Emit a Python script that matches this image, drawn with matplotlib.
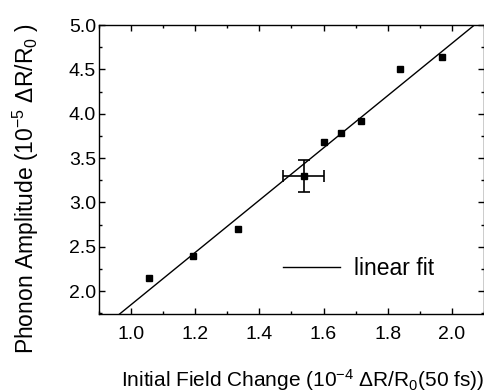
import matplotlib
matplotlib.use("Agg")
import matplotlib.pyplot as plt
import numpy as np
from matplotlib.ticker import MultipleLocator

plt.rcParams['font.family'] = ['Liberation Sans', 'DejaVu Sans']
plt.rcParams['mathtext.fontset'] = 'custom'
plt.rcParams['mathtext.rm'] = 'Liberation Sans'
plt.rcParams['mathtext.it'] = 'Liberation Sans:italic'
plt.rcParams['mathtext.bf'] = 'Liberation Sans:bold'

# Data
field_change = [1.056, 1.192, 1.335, 1.538, 1.603, 1.654, 1.716, 1.837, 1.969]
phonon_amp = [2.15, 2.40, 2.70, 3.30, 3.68, 3.78, 3.92, 4.50, 4.64]
err_point_index = 3
x_error = 0.063
y_error = 0.18
fit_slope = 2.947
fit_intercept = -1.101
x_ticks = [1.0, 1.2, 1.4, 1.6, 1.8, 2.0]
y_ticks = [2.0, 2.5, 3.0, 3.5, 4.0, 4.5, 5.0]

fig = plt.figure(figsize=(4.84, 3.92), dpi=100)
ax = fig.add_axes([98.85 / 484, 78 / 392, 1 - 98.85 / 484, 289 / 392])

xlim = (0.9, 2.1)
ylim = (1.742, 5.0)

xf = np.array(xlim)
ax.plot(xf, fit_slope * xf + fit_intercept, color='black', lw=1.0, label='linear fit')

ax.plot(field_change, phonon_amp, 's', color='black', ms=4.5, ls='none')
i = err_point_index
ax.errorbar([field_change[i]], [phonon_amp[i]], xerr=x_error, yerr=y_error,
            fmt='none', ecolor='black', elinewidth=1.2, capsize=4.3, capthick=1.2)

ax.set_xlim(*xlim)
ax.set_ylim(*ylim)
ax.set_xticks(x_ticks)
ax.set_yticks(y_ticks)
ax.xaxis.set_minor_locator(MultipleLocator(0.1))
ax.yaxis.set_minor_locator(MultipleLocator(0.25))
ax.set_xticklabels([f'{v:.1f}' for v in x_ticks])
ax.set_yticklabels([f'{v:.1f}' for v in y_ticks])
ax.tick_params(which='both', direction='in', top=True, right=True, width=1.0)
ax.tick_params(which='major', length=4, labelsize=14)
ax.tick_params(which='minor', length=2.5)
ax.tick_params(axis='x', which='major', pad=8.5)
ax.tick_params(axis='y', which='major', pad=2)
for s in ax.spines.values():
    s.set_linewidth(1.0)

ax.set_ylabel('Phonon Amplitude (10$^{-5}$ ΔR/R$_0$ )', fontsize=16.5)
ax.yaxis.set_label_coords(-0.15, 0.435)
ax.set_xlabel('Initial Field Change (10$^{-4}$ ΔR/R$_0$(50 fs))', fontsize=15)
ax.xaxis.set_label_coords(0.53, -0.185)

leg = ax.legend(loc='center left', bbox_to_anchor=(0.478, 0.156), frameon=False,
                fontsize=16.5, handlelength=2.5, handletextpad=0.6,
                borderpad=0, borderaxespad=0)

fig.savefig('out.png', dpi=100)
